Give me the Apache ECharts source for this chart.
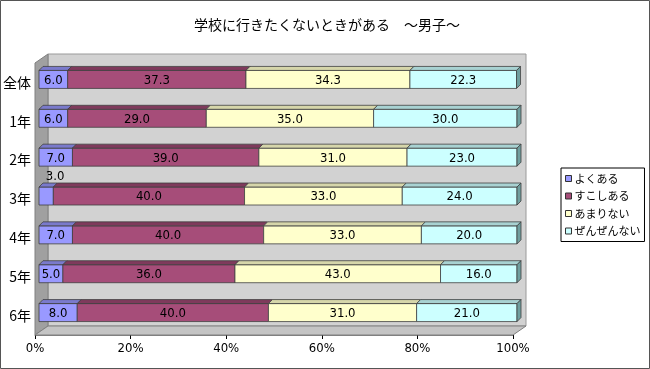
<!DOCTYPE html>
<html><head><meta charset="utf-8">
<script src="https://cdn.jsdelivr.net/npm/echarts@6/dist/echarts.min.js"></script>
<style>html,body{margin:0;padding:0;background:#fff}#c{width:650px;height:369px}</style>
</head><body><div id="c"></div>
<script>
const categories = ['全体','1年','2年','3年','4年','5年','6年'];
const seriesNames = ['よくある','すこしある','あまりない','ぜんぜんない'];
const yokuAru   = [6.0, 6.0, 7.0, 3.0, 7.0, 5.0, 8.0];
const sukoshiAru = [37.3, 29.0, 39.0, 40.0, 40.0, 36.0, 40.0];
const amariNai  = [34.3, 35.0, 31.0, 33.0, 33.0, 43.0, 31.0];
const zenzenNai = [22.3, 30.0, 23.0, 24.0, 20.0, 16.0, 21.0];
const xTicks = [0, 20, 40, 60, 80, 100];

const values = [yokuAru, sukoshiAru, amariNai, zenzenNai];
const fronts = ['#9999ff','#a64d79','#ffffcc','#ccffff'];
const tops   = ['#7a7acc','#7f3a5c','#d6d6aa','#a8d2d2'];
const side   = '#6f9e9e';
const CJK = '"Noto Sans CJK JP", sans-serif';
const NUM = '"DejaVu Sans Condensed", "Liberation Sans", sans-serif';

const chart = echarts.init(document.getElementById('c'), null, {renderer:'canvas'});

const DX = 13, DY = -9; // box depth
const frameSeries = {
  type:'custom', name:'_frame', silent:true, z:1,
  data:[[0,0]],
  encode:{x:0,y:1},
  renderItem(params, api){
    const cs = params.coordSys;
    const x=cs.x, y=cs.y, w=cs.width, h=cs.height;
    return {type:'group', children:[
      {type:'rect', shape:{x:x+DX, y:y+DY, width:w, height:h}, style:{fill:'#d2d2d2', stroke:'#9a9a9a', lineWidth:1}},
      {type:'polygon', shape:{points:[[x,y],[x+DX,y+DY],[x+DX,y+h+DY],[x,y+h]]}, style:{fill:'#a0a0a0', stroke:'#808080', lineWidth:1}},
      {type:'polygon', shape:{points:[[x,y+h],[x+DX,y+h+DY],[x+w+DX,y+h+DY],[x+w,y+h]]}, style:{fill:'#c4c4c4', stroke:'#808080', lineWidth:1}}
    ]};
  }
};

function starts(si, i){ let s=0; for(let k=0;k<si;k++) s+=values[k][i]; return s; }

const barSeries = seriesNames.map((name, si) => ({
  type:'custom', name, z:3,
  itemStyle:{color:fronts[si]},
  data: categories.map((c,i)=>[starts(si,i), starts(si,i)+values[si][i], i, values[si][i]]),
  encode:{x:[0,1], y:2},
  renderItem(params, api){
    const s=api.value(0), e=api.value(1), ci=api.value(2), v=api.value(3);
    const p0=api.coord([s,ci]), p1=api.coord([e,ci]);
    const bh=18, ox=4, oy=-3, dx=4, dy=-4;
    const x0=p0[0]+ox, x1=p1[0]+ox, yc=p0[1]+oy, y0=yc-bh/2, y1=yc+bh/2;
    const st = {stroke:'#404040', lineWidth:0.8};
    const ch = [
      {type:'rect', shape:{x:x0,y:y0,width:x1-x0,height:bh}, style:Object.assign({fill:fronts[si]}, st)},
      {type:'polygon', shape:{points:[[x0,y0],[x1,y0],[x1+dx,y0+dy],[x0+dx,y0+dy]]}, style:Object.assign({fill:tops[si]}, st)}
    ];
    if (si === seriesNames.length-1) {
      ch.push({type:'polygon', shape:{points:[[x1,y0],[x1+dx,y0+dy],[x1+dx,y1+dy],[x1,y1]]}, style:Object.assign({fill:side}, st)});
    }
    const small = v < 4;
    ch.push({type:'text', style:{
      text: v.toFixed(1),
      x: small ? (x0+x1)/2+9 : (x0+x1)/2,
      y: small ? y0-10 : yc+1,
      align:'center', verticalAlign:'middle',
      font: '13px ' + NUM, fill:'#000'
    }, z2:10});
    return {type:'group', children:ch};
  }
}));

chart.setOption({
  animation:false,
  backgroundColor:'#fff',
  title:{text:'学校に行きたくないときがある　〜男子〜', left:322, top:13, textAlign:'center',
    textStyle:{fontFamily:CJK, fontSize:14, fontWeight:'normal', color:'#000'}},
  legend:{
    data:seriesNames, orient:'vertical', left:561, top:168,
    itemWidth:6, itemHeight:6, itemGap:4.5, icon:'rect',
    padding:[4,4,4,4], borderColor:'#000', borderWidth:1, backgroundColor:'#fff',
    itemStyle:{borderColor:'#333', borderWidth:1},
    textStyle:{fontFamily:CJK, fontSize:11, color:'#000', lineHeight:13, padding:[0,0,0,-2]}
  },
  grid:{left:35, top:63, width:478, height:272, containLabel:false},
  xAxis:{type:'value', min:0, max:100, interval:20,
    axisLine:{show:true, lineStyle:{color:'#808080'}},
    axisTick:{show:true, length:4, lineStyle:{color:'#000'}},
    splitLine:{show:false},
    axisLabel:{formatter: v => xTicks.includes(v) ? v + '%' : '', margin:7, fontFamily:NUM, fontSize:13, color:'#000'}
  },
  yAxis:{type:'category', data:categories, inverse:true,
    axisLine:{show:true, lineStyle:{color:'#808080'}},
    axisTick:{show:false},
    splitLine:{show:false},
    axisLabel:{margin:4, fontFamily:CJK, fontSize:14, color:'#000'}
  },
  graphic:[{type:'rect', z:100, silent:true, shape:{x:0.5,y:0.5,width:649,height:368}, style:{fill:'none', stroke:'#555', lineWidth:1}}],
  series:[frameSeries].concat(barSeries)
});
</script></body></html>
